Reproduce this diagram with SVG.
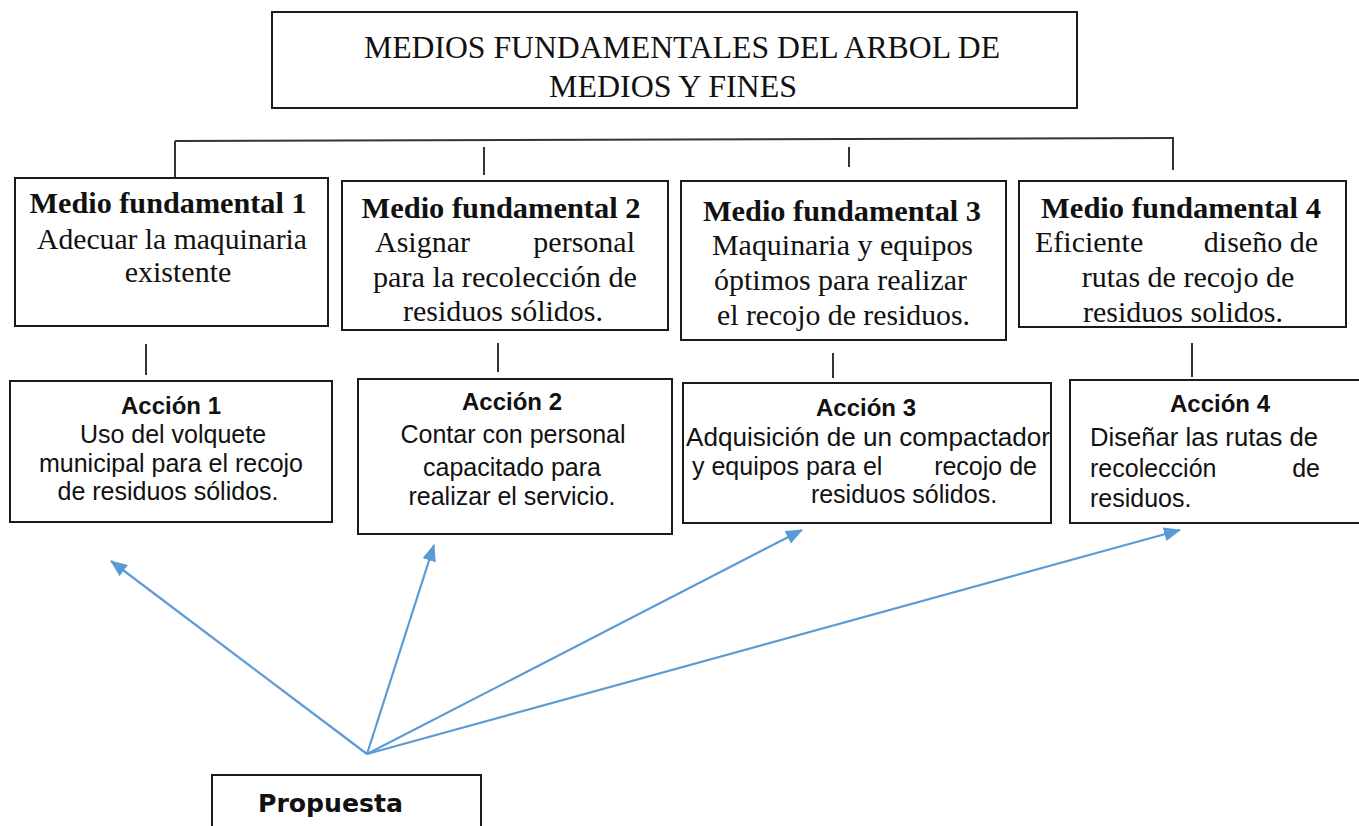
<svg xmlns="http://www.w3.org/2000/svg" width="1359" height="826" viewBox="0 0 1359 826">
<style>
.box{fill:#fff;stroke:#1a1a1a;stroke-width:2}
.ln{stroke:#333;stroke-width:2;fill:none}
.arr{stroke:#5B9BD5;stroke-width:2.2;fill:none;marker-end:url(#ah)}
.tr{font-family:"Liberation Serif","Times New Roman",serif;font-size:30px;fill:#111}
.trb{font-family:"Liberation Serif","Times New Roman",serif;font-size:30px;font-weight:bold;fill:#111}
.ti{font-family:"Liberation Serif","Times New Roman",serif;font-size:31px;fill:#111}
.ar{font-family:"Liberation Sans",Arial,sans-serif;font-size:25px;fill:#111}
.arb{font-family:"Liberation Sans",Arial,sans-serif;font-size:24px;font-weight:bold;fill:#111}
.pb{font-family:"DejaVu Sans",Tahoma,sans-serif;font-size:25px;font-weight:bold;fill:#111}
.c{text-anchor:middle}
.e{text-anchor:end}
</style>
<defs>
<marker id="ah" markerUnits="userSpaceOnUse" markerWidth="18" markerHeight="14" refX="16" refY="7" orient="auto">
<path d="M0,0 L17,7 L0,14 Z" fill="#5B9BD5"/>
</marker>
</defs>

<g id="title">
<rect class="box" x="272" y="12" width="805" height="96"/>
<text class="ti c" x="682" y="58" textLength="636" lengthAdjust="spacingAndGlyphs">MEDIOS FUNDAMENTALES DEL ARBOL DE</text>
<text class="ti c" x="673" y="97" textLength="248" lengthAdjust="spacingAndGlyphs">MEDIOS Y FINES</text>
</g>

<g id="connectors">
<line class="ln" x1="175" y1="141" x2="1174" y2="138"/>
<line class="ln" x1="175" y1="141" x2="175" y2="178"/>
<line class="ln" x1="484" y1="147" x2="484" y2="175"/>
<line class="ln" x1="849" y1="147" x2="849" y2="167"/>
<line class="ln" x1="1173" y1="138" x2="1173" y2="170"/>
<line class="ln" x1="146" y1="344" x2="146" y2="375"/>
<line class="ln" x1="498" y1="343" x2="498" y2="372"/>
<line class="ln" x1="833" y1="353" x2="833" y2="378"/>
<line class="ln" x1="1192" y1="343" x2="1192" y2="377"/>
<line class="arr" x1="367" y1="754" x2="111" y2="561"/>
<line class="arr" x1="367" y1="754" x2="434" y2="545"/>
<line class="arr" x1="367" y1="754" x2="802" y2="530"/>
<line class="arr" x1="367" y1="754" x2="1180" y2="530"/>
</g>

<g id="mf1">
<rect class="box" x="15" y="178" width="313" height="148"/>
<text class="trb c" x="168" y="213" textLength="277" lengthAdjust="spacingAndGlyphs">Medio fundamental 1</text>
<text class="tr" x="37" y="249" textLength="270" lengthAdjust="spacingAndGlyphs">Adecuar  la maquinaria</text>
<text class="tr c" x="178" y="282">existente</text>
</g>

<g id="mf2">
<rect class="box" x="342" y="181" width="326" height="149"/>
<text class="trb c" x="501" y="218" textLength="279" lengthAdjust="spacingAndGlyphs">Medio fundamental 2</text>
<text class="tr" x="375" y="252">Asignar</text>
<text class="tr e" x="635" y="252">personal</text>
<text class="tr" x="373" y="287" textLength="264" lengthAdjust="spacingAndGlyphs">para la recolección de</text>
<text class="tr c" x="503" y="321">residuos sólidos.</text>
</g>

<g id="mf3">
<rect class="box" x="681" y="181" width="325" height="159"/>
<text class="trb c" x="842" y="221" textLength="278" lengthAdjust="spacingAndGlyphs">Medio fundamental 3</text>
<text class="tr" x="712" y="255" textLength="261" lengthAdjust="spacingAndGlyphs">Maquinaria  y equipos</text>
<text class="tr" x="714" y="290" textLength="253" lengthAdjust="spacingAndGlyphs">óptimos para realizar</text>
<text class="tr" x="717" y="325" textLength="253" lengthAdjust="spacingAndGlyphs">el recojo de residuos.</text>
</g>

<g id="mf4">
<rect class="box" x="1019" y="181" width="327" height="146"/>
<text class="trb c" x="1181" y="218" textLength="280" lengthAdjust="spacingAndGlyphs">Medio fundamental 4</text>
<text class="tr" x="1035" y="252">Eficiente</text>
<text class="tr e" x="1318" y="252">diseño de</text>
<text class="tr c" x="1188" y="287">rutas de recojo de</text>
<text class="tr c" x="1183" y="322">residuos solidos.</text>
</g>

<g id="accion1">
<rect class="box" x="10" y="381" width="322" height="141"/>
<text class="arb c" x="171" y="414">Acción 1</text>
<text class="ar c" x="173" y="443">Uso del volquete</text>
<text class="ar c" x="171" y="472">municipal para el recojo</text>
<text class="ar c" x="168" y="500">de residuos sólidos.</text>
</g>

<g id="accion2">
<rect class="box" x="358" y="379" width="314" height="155"/>
<text class="arb c" x="512" y="410">Acción 2</text>
<text class="ar c" x="513" y="443">Contar con personal</text>
<text class="ar c" x="512" y="476">capacitado para</text>
<text class="ar c" x="512" y="505">realizar el servicio.</text>
</g>

<g id="accion3">
<rect class="box" x="683" y="383" width="368" height="140"/>
<text class="arb c" x="866" y="416">Acción 3</text>
<text class="ar" x="686" y="446" textLength="364" lengthAdjust="spacingAndGlyphs">Adquisición de un compactador</text>
<text class="ar" x="692" y="475">y equipos para el</text>
<text class="ar e" x="1037" y="475">recojo de</text>
<text class="ar c" x="904" y="503">residuos sólidos.</text>
</g>

<g id="accion4">
<rect class="box" x="1070" y="380" width="292" height="143"/>
<text class="arb c" x="1220" y="412">Acción 4</text>
<text class="ar" x="1090" y="446" textLength="228" lengthAdjust="spacingAndGlyphs">Diseñar las rutas de</text>
<text class="ar" x="1090" y="477">recolección</text>
<text class="ar e" x="1320" y="477">de</text>
<text class="ar" x="1090" y="507">residuos.</text>
</g>

<g id="propuesta">
<rect class="box" x="212" y="775" width="269" height="60"/>
<text class="pb" x="258" y="812" textLength="145" lengthAdjust="spacingAndGlyphs">Propuesta</text>
</g>
</svg>
